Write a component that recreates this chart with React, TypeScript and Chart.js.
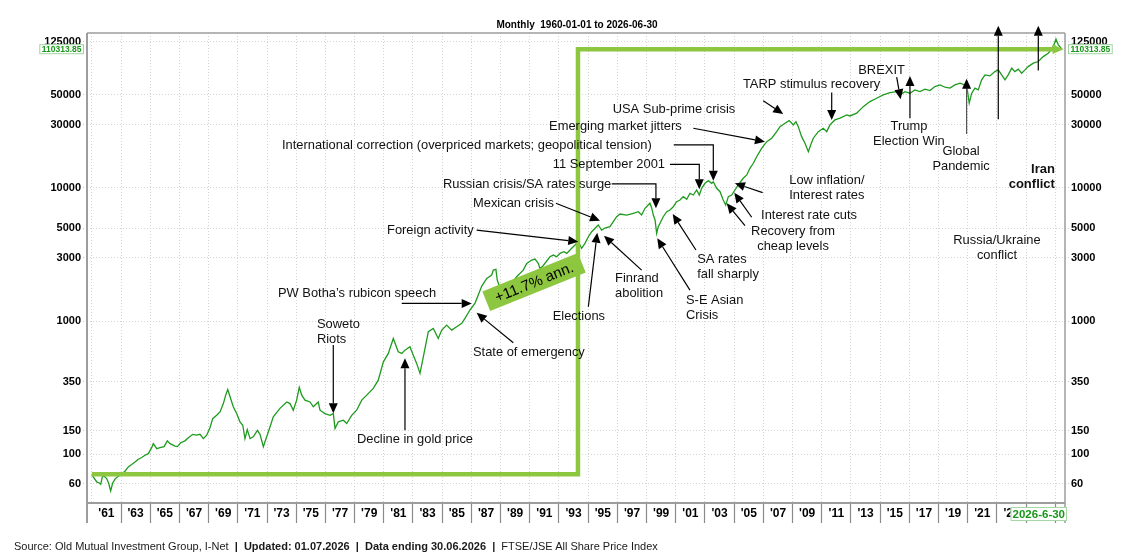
import React, { useEffect, useRef } from 'react';
import { Chart, registerables } from 'chart.js';

Chart.register(...registerables);

const FONT = '"Liberation Sans", Arial, Helvetica, sans-serif';

// FTSE/JSE All Share index (decimal years)
const years = [
  1960.0, 1960.34, 1960.51, 1960.61, 1960.72, 1960.84, 1961.02, 1961.16, 1961.29, 1961.43,
  1961.61, 1961.82, 1962.05, 1962.27, 1962.5, 1962.73, 1962.96, 1963.18, 1963.42, 1963.64,
  1963.87, 1964.1, 1964.21, 1964.45, 1964.67, 1964.95, 1965.17, 1965.36, 1965.7, 1965.86,
  1966.09, 1966.38, 1966.61, 1966.91, 1967.18, 1967.41, 1967.64, 1967.87, 1968.1, 1968.28,
  1968.55, 1968.78, 1969.01, 1969.17, 1969.31, 1969.47, 1969.69, 1969.92, 1970.15, 1970.34,
  1970.49, 1970.65, 1970.84, 1971.06, 1971.34, 1971.52, 1971.75, 1971.86, 1972.09, 1972.43,
  1972.89, 1973.35, 1973.58, 1973.8, 1974.03, 1974.21, 1974.38, 1974.6, 1974.95, 1975.17,
  1975.51, 1975.63, 1975.97, 1976.32, 1976.54, 1976.66, 1976.88, 1977.23, 1977.46, 1977.8,
  1978.14, 1978.49, 1978.83, 1979.28, 1979.62, 1979.97, 1980.31, 1980.65, 1980.99, 1981.23,
  1981.45, 1981.79, 1982.02, 1982.25, 1982.48, 1982.71, 1983.05, 1983.39, 1983.73, 1983.97,
  1984.31, 1984.65, 1984.99, 1985.34, 1985.56, 1985.9, 1986.25, 1986.47, 1986.71, 1987.05,
  1987.39, 1987.5, 1987.68, 1987.77, 1987.96, 1988.3, 1988.64, 1989.1, 1989.55, 1989.79,
  1990.13, 1990.36, 1990.58, 1990.7, 1990.9, 1991.38, 1991.61, 1991.84, 1992.07, 1992.34,
  1992.53, 1992.87, 1993.1, 1993.32, 1993.55, 1993.78, 1994.01, 1994.24, 1994.47, 1994.69,
  1994.92, 1995.15, 1995.49, 1995.95, 1996.18, 1996.64, 1997.09, 1997.43, 1997.66, 1997.89,
  1998.23, 1998.35, 1998.46, 1998.58, 1998.69, 1998.8, 1998.92, 1999.14, 1999.38, 1999.6,
  1999.83, 2000.06, 2000.29, 2000.51, 2000.75, 2000.97, 2001.2, 2001.43, 2001.61, 2001.77,
  2002.0, 2002.23, 2002.46, 2002.57, 2002.8, 2003.03, 2003.25, 2003.42, 2003.6, 2003.83,
  2004.05, 2004.28, 2004.62, 2004.86, 2005.08, 2005.31, 2005.54, 2005.88, 2006.23, 2006.57,
  2006.91, 2007.14, 2007.48, 2007.77, 2008.05, 2008.23, 2008.39, 2008.62, 2008.85, 2009.08,
  2009.24, 2009.42, 2009.76, 2010.1, 2010.34, 2010.56, 2010.9, 2011.25, 2011.71, 2011.93,
  2012.39, 2012.84, 2013.3, 2013.76, 2014.21, 2014.67, 2015.13, 2015.36, 2015.7, 2016.04,
  2016.38, 2016.73, 2017.07, 2017.41, 2017.75, 2018.1, 2018.44, 2018.78, 2019.12, 2019.47,
  2019.81, 2019.97, 2020.1, 2020.27, 2020.49, 2020.72, 2020.95, 2021.18, 2021.52, 2021.86,
  2022.09, 2022.32, 2022.55, 2022.77, 2023.01, 2023.23, 2023.46, 2023.69, 2023.92, 2024.14,
  2024.49, 2024.83, 2025.17, 2025.51, 2025.75, 2025.9, 2026.04, 2026.2, 2026.45,
];

const alsi = [
  70, 61.9, 60.8, 59.5, 67.5, 68.4, 65.6, 60.2, 53.0, 60.8,
  65.6, 68.4, 70.8, 74.5, 80.3, 83.7, 87.5, 91.7, 94.4, 98.3,
  101, 112, 120, 110, 112, 114, 126, 120, 115, 114,
  122, 126, 133, 141, 139, 141, 131, 139, 159, 185,
  196, 208, 240, 278, 306, 270, 227, 202, 175, 165,
  131, 153, 131, 135, 151, 141, 114, 124, 147, 191,
  221, 247, 240, 214, 255, 318, 278, 255, 247, 227,
  247, 214, 202, 196, 202, 156, 175, 180, 170, 196,
  214, 255, 278, 312, 360, 494, 572, 741, 588, 572,
  605, 641, 555, 481, 405, 540, 832, 881, 741, 856,
  933, 856, 906, 961, 1047, 1211, 1365, 1568, 1834, 2094,
  2218, 2417, 2447, 2033, 1771, 1652, 1866, 2153, 2417, 2716,
  2876, 2925, 2716, 2489, 2594, 3043, 3134, 3043, 3229, 3321,
  3229, 3522, 3726, 3948, 3522, 3840, 4305, 4692, 4977, 5272,
  4831, 5003, 5117, 6085, 6378, 6265, 6449, 6637, 6265, 7036,
  7674, 7079, 6265, 5746, 4566, 5117, 5429, 6085, 6637, 6836,
  7231, 7889, 8128, 8606, 8222, 9124, 8854, 9659, 8854, 9950,
  10846, 11350, 10846, 11146, 9950, 9376, 8128, 7453, 8606, 8854,
  9659, 10539, 11830, 12531, 14060, 15343, 17183, 19870, 22290, 23650,
  26500, 28900, 30630, 32060, 29780, 31500, 28900, 24300, 21680, 18750,
  21050, 23650, 26500, 28120, 26500, 29780, 32460, 33440, 35400, 34760,
  36460, 40850, 44570, 47210, 50030, 52100, 52980, 50030, 52980, 51530,
  54580, 52980, 55230, 53930, 57800, 59450, 57150, 56230, 59450, 61240,
  59450, 54580, 43340, 51530, 56230, 54580, 64880, 70760, 69500, 74850,
  77100, 70760, 64880, 70760, 79430, 74850, 78050, 72840, 77100, 81660,
  86700, 89130, 97050, 103000, 110400, 118900, 131200, 118900, 110313.85,
];

// start-to-end illustration bar
const stepYears = [1960.0, 1993.3, 1993.3, 2025.95];
const stepValues = [70.8, 70.8, 110313.85, 110313.85];

const yTicks = [60, 100, 150, 350, 1000, 3000, 5000, 10000, 30000, 50000, 125000];
const gridYears = [
  1960, 1962, 1964, 1966, 1968, 1970, 1972, 1974, 1976, 1978, 1980, 1982, 1984, 1986, 1988, 1990, 1992,
  1994, 1996, 1998, 2000, 2002, 2004, 2006, 2008, 2010, 2012, 2014, 2016, 2018, 2020, 2022, 2024, 2026,
];
const labelYears = [
  1961, 1963, 1965, 1967, 1969, 1971, 1973, 1975, 1977, 1979, 1981, 1983, 1985, 1987, 1989, 1991, 1993,
  1995, 1997, 1999, 2001, 2003, 2005, 2007, 2009, 2011, 2013, 2015, 2017, 2019, 2021, 2023, 2025,
];
const axisYears = [...gridYears, ...labelYears].sort((a, b) => a - b);

type Ann = {
  lines: string[];
  at: [number, number];
  align: 'left' | 'right' | 'center';
  bold?: boolean;
  path: [number, number][];
  color?: string;
};

const annotations: Ann[] = [
  { lines: ['Soweto', 'Riots'], at: [1975.42, 949], align: 'left', path: [[1976.54, 660], [1976.54, 203]] },
  { lines: ['Decline in gold price'], at: [1978.16, 129.7], align: 'left', path: [[1981.45, 151.4], [1981.45, 527]] },
  { lines: ['PW Botha\u2019s rubicon speech'], at: [1972.75, 1610], align: 'left', path: [[1981.23, 1358], [1986.02, 1358]] },
  { lines: ['State of emergency'], at: [1986.11, 585], align: 'left', path: [[1988.87, 687], [1986.36, 1154]] },
  { lines: ['Foreign activity'], at: [1980.22, 4831], align: 'left', path: [[1986.36, 4831], [1993.32, 3948]] },
  { lines: ['Mexican crisis'], at: [1986.11, 7674], align: 'left', path: [[1991.79, 7674], [1994.81, 5680]] },
  { lines: ['Russian crisis/SA rates surge'], at: [1984.05, 10720], align: 'left', path: [[1995.61, 10720], [1998.64, 10720], [1998.64, 7036]] },
  { lines: ['11 September 2001'], at: [1999.26, 15070], align: 'right', path: [[1999.6, 15070], [2001.61, 15070], [2001.61, 9775]] },
  { lines: ['International correction (overpriced markets; geopolitical tension)'], at: [1998.35, 20800], align: 'right', path: [[1999.86, 21050], [2002.57, 21050], [2002.57, 11350]] },
  { lines: ['Emerging market jitters'], at: [2000.4, 28900], align: 'right', path: [[2001.2, 28120], [2006.11, 22290]] },
  { lines: ['USA Sub-prime crisis'], at: [1995.68, 39080], align: 'left', path: [[2005.99, 45300], [2007.36, 36000]] },
  { lines: ['TARP stimulus recovery'], at: [2004.6, 60250], align: 'left', path: [[2010.68, 52100], [2010.68, 32460]] },
  { lines: ['BREXIT'], at: [2012.5, 76200], align: 'left', path: [[2015.13, 67950], [2015.4, 46450]] },
  { lines: ['Trump', 'Election Win'], at: [2015.97, 29240], align: 'center', path: [[2016.04, 33440], [2016.04, 69500]] },
  { lines: ['Global', 'Pandemic'], at: [2019.54, 18970], align: 'center', path: [[2019.92, 25470], [2019.92, 66050]], color: '#555555' },
  { lines: ['Iran', 'conflict'], at: [2025.97, 13830], align: 'right', bold: true, path: [[2024.83, 76200], [2024.83, 165200]] },
  { lines: ['Russia/Ukraine', 'conflict'], at: [2022.0, 4018], align: 'center', path: [[2022.09, 32850], [2022.09, 165200]] },
  { lines: ['Low inflation/', 'Interest rates'], at: [2007.77, 11480], align: 'left', path: [[2005.95, 9220], [2004.05, 10846]] },
  { lines: ['Interest rate cuts'], at: [2005.84, 6265], align: 'left', path: [[2005.2, 6026], [2004.01, 9220]] },
  { lines: ['Recovery from', 'cheap levels'], at: [2008.03, 4692], align: 'center', path: [[2004.74, 5207], [2003.49, 7674]] },
  { lines: ['SA rates', 'fall sharply'], at: [2001.47, 2910], align: 'left', path: [[2001.38, 3420], [1999.79, 6378]] },
  { lines: ['S-E Asian', 'Crisis'], at: [2000.7, 1422], align: 'left', path: [[2000.97, 1710], [1998.73, 4188]] },
  { lines: ['Finrand', 'abolition'], at: [1995.84, 2094], align: 'left', path: [[1997.66, 2417], [1995.08, 4377]] },
  { lines: ['Elections'], at: [1991.57, 1077], align: 'left', path: [[1994.01, 1281], [1994.62, 4613]] },
];

const returnLabel = { text: '+11.7% ann.', at: [1990.29, 1965] as [number, number] };

const BAR_GREEN = '#8dc63f';
const LINE_GREEN = '#1e9b1e';

function drawArrow(ctx: CanvasRenderingContext2D, pts: [number, number][], color: string) {
  const n = pts.length;
  const [tx, ty] = pts[n - 1];
  const [sx, sy] = pts[n - 2];
  const ang = Math.atan2(ty - sy, tx - sx);
  const L = 10;
  const W = 4.5;
  const bx = tx - L * Math.cos(ang);
  const by = ty - L * Math.sin(ang);
  ctx.strokeStyle = color;
  ctx.lineWidth = 1.2;
  ctx.beginPath();
  ctx.moveTo(pts[0][0], pts[0][1]);
  for (let i = 1; i < n - 1; i++) ctx.lineTo(pts[i][0], pts[i][1]);
  ctx.lineTo(bx, by);
  ctx.stroke();
  ctx.fillStyle = '#000';
  ctx.beginPath();
  ctx.moveTo(tx, ty);
  ctx.lineTo(bx + W * Math.sin(ang), by - W * Math.cos(ang));
  ctx.lineTo(bx - W * Math.sin(ang), by + W * Math.cos(ang));
  ctx.closePath();
  ctx.fill();
}

const overlayPlugin = {
  id: 'overlay',
  afterDraw(chart: any) {
    const { ctx, chartArea: a } = chart;
    const xs = chart.scales.x;
    const ys = chart.scales.y;
    const X = (v: number) => xs.getPixelForValue(v);
    const Y = (v: number) => ys.getPixelForValue(v);
    ctx.save();

    // frame
    ctx.strokeStyle = '#9d9d9d';
    ctx.lineWidth = 1.5;
    ctx.beginPath();
    ctx.moveTo(a.left, a.top);
    ctx.lineTo(a.right, a.top);
    ctx.moveTo(a.right, a.top);
    ctx.lineTo(a.right, a.bottom + 20);
    ctx.stroke();
    ctx.lineWidth = 2;
    ctx.beginPath();
    ctx.moveTo(a.left, a.top);
    ctx.lineTo(a.left, a.bottom + 20);
    ctx.moveTo(a.left, a.bottom);
    ctx.lineTo(a.right, a.bottom);
    ctx.stroke();

    // arrow head of the illustration bar
    const ex = X(stepYears[stepYears.length - 1]);
    const ey = Y(stepValues[stepValues.length - 1]);
    ctx.fillStyle = BAR_GREEN;
    ctx.beginPath();
    ctx.moveTo(ex - 2, ey - 4.8);
    ctx.lineTo(ex + 9, ey);
    ctx.lineTo(ex - 2, ey + 4.8);
    ctx.closePath();
    ctx.fill();

    // return label
    const cx = X(returnLabel.at[0]);
    const cy = Y(returnLabel.at[1]);
    ctx.save();
    ctx.translate(cx, cy);
    ctx.rotate((-22 * Math.PI) / 180);
    ctx.fillStyle = BAR_GREEN;
    ctx.fillRect(-51.5, -10.5, 103, 21);
    ctx.fillStyle = '#000';
    ctx.font = `15px ${FONT}`;
    ctx.textAlign = 'center';
    ctx.textBaseline = 'middle';
    ctx.fillText(returnLabel.text, 0, 1);
    ctx.restore();

    // annotations
    for (const an of annotations) {
      const pts = an.path.map((p) => [X(p[0]), Y(p[1])] as [number, number]);
      drawArrow(ctx, pts, an.color || '#000');
      ctx.fillStyle = '#111';
      ctx.font = an.bold ? `bold 13px ${FONT}` : `12.9px ${FONT}`;
      ctx.textAlign = an.align;
      ctx.textBaseline = 'middle';
      const tx = X(an.at[0]);
      const ty = Y(an.at[1]);
      an.lines.forEach((ln, i) => ctx.fillText(ln, tx, ty + i * 15));
    }

    // title
    ctx.fillStyle = '#000';
    ctx.font = `bold 10px ${FONT}`;
    ctx.textAlign = 'center';
    ctx.textBaseline = 'middle';
    ctx.fillText('Monthly  1960-01-01 to 2026-06-30', (a.left + a.right) / 2 + 1, 25);

    // last value boxes
    const lv = alsi[alsi.length - 1];
    const vy = Y(lv);
    const lbl = lv.toFixed(2);
    ctx.font = `bold 8.5px ${FONT}`;
    const tw = ctx.measureText(lbl).width;
    const bw = tw + 5;
    const boxes = [a.left - 3 - bw, a.right + 3];
    for (const bx of boxes) {
      ctx.fillStyle = '#fff';
      ctx.fillRect(bx, vy - 5, bw, 10);
      ctx.strokeStyle = '#9fd49f';
      ctx.lineWidth = 1;
      ctx.strokeRect(bx + 0.5, vy - 4.5, bw - 1, 9);
      ctx.fillStyle = '#1a961a';
      ctx.textAlign = 'center';
      ctx.fillText(lbl, bx + bw / 2, vy + 0.5);
    }

    // end-date box on the time axis
    const dl = '2026-6-30';
    ctx.font = `bold 11.5px ${FONT}`;
    const dw = ctx.measureText(dl).width + 4;
    const dx = a.right + 2 - dw;
    ctx.fillStyle = '#fff';
    ctx.fillRect(dx, a.bottom + 4, dw, 14);
    ctx.strokeStyle = '#a6d8a6';
    ctx.strokeRect(dx + 0.5, a.bottom + 4.5, dw - 1, 13);
    ctx.fillStyle = '#1a961a';
    ctx.textAlign = 'center';
    ctx.fillText(dl, dx + dw / 2, a.bottom + 11.5);

    ctx.restore();
  },
};

export default function App() {
  const ref = useRef<HTMLCanvasElement>(null);

  useEffect(() => {
    const canvas = ref.current;
    if (!canvas) return;
    const yCommon = {
      type: 'logarithmic' as const,
      min: 43,
      max: 146000,
      afterBuildTicks: (s: any) => {
        s.ticks = yTicks.map((v) => ({ value: v }));
      },
      ticks: {
        autoSkip: false,
        padding: 2,
        color: '#000',
        font: { family: FONT, size: 11, weight: 'bold' as const },
        callback: (v: any) => String(v),
      },
    };
    const chart = new Chart(canvas, {
      type: 'line',
      data: {
        datasets: [
          {
            label: 'bar',
            data: stepYears.map((x, i) => ({ x, y: stepValues[i] })),
            borderColor: BAR_GREEN,
            borderWidth: 4.5,
            pointRadius: 0,
            borderJoinStyle: 'miter',
            borderCapStyle: 'butt',
            tension: 0,
            order: 0,
            yAxisID: 'y',
          },
          {
            label: 'FTSE/JSE All Share',
            data: years.map((x, i) => ({ x, y: alsi[i] })),
            borderColor: LINE_GREEN,
            borderWidth: 1.3,
            pointRadius: 0,
            tension: 0,
            order: 1,
            yAxisID: 'y',
          },
        ],
      },
      options: {
        animation: false,
        responsive: false,
        events: [],
        layout: { padding: { top: 33, left: 0, right: 0, bottom: 0 } },
        plugins: {
          legend: { display: false },
          tooltip: { enabled: false },
          title: { display: false },
        },
        scales: {
          x: {
            type: 'linear',
            position: 'bottom',
            min: 1959.67,
            max: 2026.66,
            afterBuildTicks: (s: any) => {
              s.ticks = axisYears.map((v) => ({ value: v }));
            },
            afterFit: (s: any) => {
              s.height = 51;
            },
            ticks: {
              autoSkip: false,
              maxRotation: 0,
              minRotation: 0,
              padding: -17,
              color: '#000',
              font: { family: FONT, size: 12, weight: 'bold' },
              callback: (v: any) => (labelYears.includes(v) ? "'" + String(v).slice(2) : ''),
            },
            grid: {
              color: (c: any) => (c.tick && gridYears.includes(c.tick.value) ? '#d4d4d4' : 'rgba(0,0,0,0)'),
              lineWidth: 1,
              tickLength: 20,
              tickWidth: 1.2,
              tickColor: (c: any) =>
                c.tick && gridYears.includes(c.tick.value) && c.tick.value > 1960 ? '#8a8a8a' : 'rgba(0,0,0,0)',
            },
            border: { display: false, dash: [1, 2] },
          },
          y: {
            ...yCommon,
            position: 'left',
            afterFit: (s: any) => {
              s.width = 87;
            },
            grid: { color: '#d4d4d4', lineWidth: 1, tickLength: 4, tickColor: '#c8c8c8', tickBorderDash: [1, 2] },
            border: { display: false, dash: [1, 2] },
          },
          y2: {
            ...yCommon,
            position: 'right',
            afterFit: (s: any) => {
              s.width = 57;
            },
            grid: { drawOnChartArea: false, tickLength: 4, tickColor: '#c8c8c8', tickBorderDash: [1, 2] },
            border: { display: false },
          },
        },
      },
      plugins: [overlayPlugin],
    } as any);
    return () => chart.destroy();
  }, []);

  return (
    <div
      style={{
        position: 'fixed',
        left: 0,
        top: 0,
        width: 1122,
        height: 554,
        background: '#fff',
        overflow: 'hidden',
      }}
    >
      <canvas ref={ref} width={1122} height={554} style={{ display: 'block', width: 1122, height: 554 }} />
      <div
        style={{
          position: 'absolute',
          left: 14,
          top: 539,
          fontFamily: FONT,
          fontSize: 11,
          lineHeight: '14px',
          color: '#1a1a1a',
          whiteSpace: 'pre',
        }}
      >
        {'Source: Old Mutual Investment Group, I-Net'}
        <b>{'  |  Updated: 01.07.2026  |  Data ending 30.06.2026  |  '}</b>
        {'FTSE/JSE All Share Price Index'}
      </div>
    </div>
  );
}
